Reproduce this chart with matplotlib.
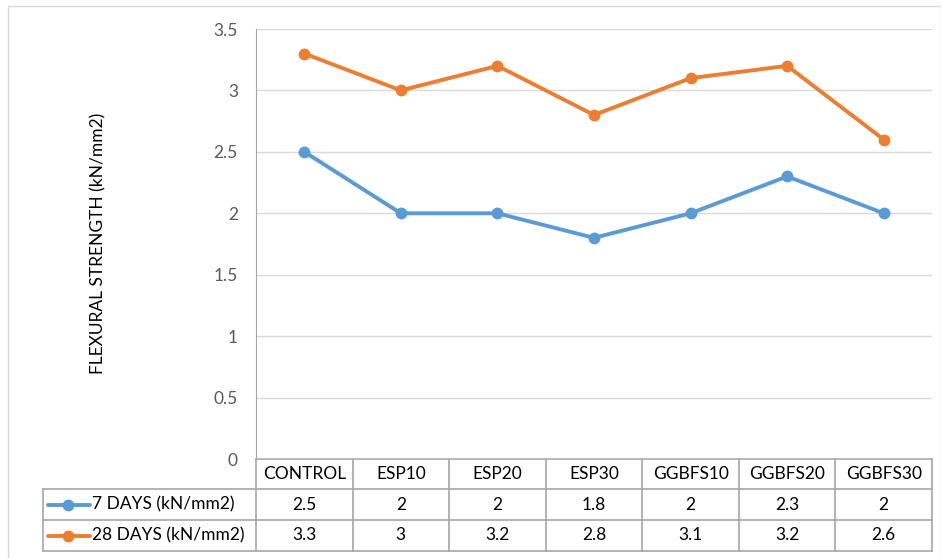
import numpy as np
import matplotlib.pyplot as plt
from matplotlib.lines import Line2D

plt.rcParams['font.family'] = ['Lato', 'DejaVu Sans']

categories = ['CONTROL', 'ESP10', 'ESP20', 'ESP30', 'GGBFS10', 'GGBFS20', 'GGBFS30']
days7 = [2.5, 2.0, 2.0, 1.8, 2.0, 2.3, 2.0]
days28 = [3.3, 3.0, 3.2, 2.8, 3.1, 3.2, 2.6]
series_names = ['7 DAYS (kN/mm2)', '28 DAYS (kN/mm2)']
yticks = [0, 0.5, 1, 1.5, 2, 2.5, 3, 3.5]

BLUE = '#5b9bd5'
ORANGE = '#ed7d31'
GRID = '#d9d9d9'
TABLE = '#a6a6a6'
TEXT = '#000000'
FS = 12.5

W, H = 941, 558
fig = plt.figure(figsize=(W / 100, H / 100), dpi=100)

# pixel-space overlay for the frame and the data table
bg = fig.add_axes([0, 0, 1, 1])
bg.set_xlim(0, W)
bg.set_ylim(H, 0)
bg.axis('off')

# plot area
x0, x1, ytop, ybot = 256, 932, 29, 459
ax = fig.add_axes([x0 / W, 1 - ybot / H, (x1 - x0) / W, (ybot - ytop) / H])
x = np.arange(len(categories))
ax.set_xlim(-0.5, len(categories) - 0.5)
ax.set_ylim(0, 3.5)
ax.set_yticks(yticks)
ax.set_yticklabels([f'{t:g}' for t in yticks], fontsize=FS, color='#595959')
ax.set_xticks([])
ax.tick_params(axis='y', length=0, pad=13)
ax.grid(axis='y', color=GRID, linewidth=1)
ax.set_axisbelow(True)
for s in ['top', 'right', 'bottom']:
    ax.spines[s].set_visible(False)
ax.spines['left'].set_color(TABLE)
ax.patch.set_alpha(0)

for vals, col in [(days7, BLUE), (days28, ORANGE)]:
    ax.plot(x, vals, color=col, linewidth=2.8, marker='o', markersize=7.5,
            solid_capstyle='round', zorder=3)

bg.text(98, 243, 'FLEXURAL STRENGTH (kN/mm2)', rotation=90, ha='center', va='center',
        fontsize=FS, color=TEXT)

# outer chart frame
bg.plot([8, 8, W, W], [H, 6, 6, H], color=GRID, linewidth=1)

# data table
cw = (x1 - x0) / len(categories)
r0, r1, r2, r3 = ybot, 489, 520, 551
lx = 43
bg.plot([x0, x1], [r0, r0], color=TABLE, linewidth=1.2)
bg.plot([lx, x1], [r1, r1], color=TABLE, linewidth=1.2)
bg.plot([lx, x1], [r2, r2], color=TABLE, linewidth=1.2)
bg.plot([lx, x1], [r3, r3], color=TABLE, linewidth=1.2)
bg.plot([lx, lx], [r1, r3], color=TABLE, linewidth=1.2)
for i in range(len(categories) + 1):
    bg.plot([x0 + i * cw] * 2, [r0, r3], color=TABLE, linewidth=1.2)

for i, c in enumerate(categories):
    cx = x0 + (i + 0.5) * cw
    bg.text(cx, (r0 + r1) / 2, c, ha='center', va='center', fontsize=FS, color=TEXT)
    bg.text(cx, (r1 + r2) / 2, f'{days7[i]:g}', ha='center', va='center', fontsize=FS, color=TEXT)
    bg.text(cx, (r2 + r3) / 2, f'{days28[i]:g}', ha='center', va='center', fontsize=FS, color=TEXT)

for (ra, rb), name, col in [((r1, r2), series_names[0], BLUE), ((r2, r3), series_names[1], ORANGE)]:
    cy = (ra + rb) / 2
    bg.add_line(Line2D([48, 90], [cy, cy], color=col, linewidth=2.8,
                       solid_capstyle='round'))
    bg.plot([68], [cy], marker='o', markersize=7.5, color=col)
    bg.text(92, cy, name, ha='left', va='center', fontsize=FS, color=TEXT)

fig.savefig('out.png', dpi=100)
